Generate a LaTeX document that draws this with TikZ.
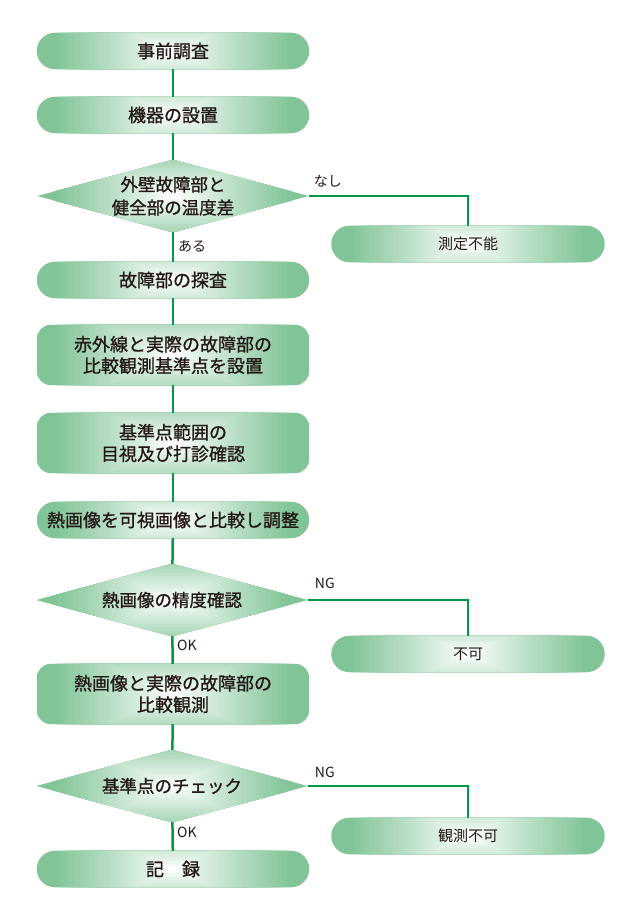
\documentclass[tikz,border=0pt]{standalone}
\usepackage{fontspec}
\setmainfont{Noto Sans CJK JP}
\newfontfamily\medfont{Noto Sans CJK JP}[FakeBold=1]
\usetikzlibrary{shapes.geometric,backgrounds}
\definecolor{boxg}{HTML}{80C497}
\definecolor{lineg}{HTML}{009A44}
\definecolor{txt}{HTML}{231815}
\newcommand\glowrects[1]{%
  \fill[boxg] ([shift={(-160pt,-160pt)}]#1.center) rectangle ([shift={(160pt,160pt)}]#1.center);
  \foreach \k in {0,...,39}{%
    \pgfmathsetmacro\glowpct{100*(1-\k/39)^0.9}%
    \pgfmathsetmacro\glowhw{120-3*\k}%
    \pgfmathsetmacro\glowhh{0.45*(120-3*\k)}%
    \fill[boxg!\glowpct!white] ([shift={(-\glowhw pt,-\glowhh pt)}]#1.center) rectangle ([shift={(\glowhw pt,\glowhh pt)}]#1.center);}}
\newcommand\glowbox[2]{%
  \begin{scope}
    \clip[rounded corners=#2] (#1.south west) rectangle (#1.north east);
    \glowrects{#1}
  \end{scope}}
\newcommand\glowdia[1]{%
  \begin{scope}
    \clip (#1.north) -- (#1.east) -- (#1.south) -- (#1.west) -- cycle;
    \glowrects{#1}
  \end{scope}}
\tikzset{
 mainbox/.style={rectangle, minimum width=272pt, minimum height=36pt, inner sep=0pt, align=center, text=txt, font=\fontsize{18}{21.5}\medfont},
 tallbox/.style={mainbox, minimum height=60pt},
 sidebox/.style={mainbox, minimum width=273pt, font=\fontsize{15}{18}\selectfont},
 decide/.style={diamond, aspect=3.76, minimum width=271pt, minimum height=72pt, inner sep=0pt, align=center, text=txt, font=\fontsize{17.5}{23}\medfont},
 conn/.style={draw=lineg, line width=2.5pt},
 lbl/.style={inner sep=0pt, anchor=west, text=txt, font=\fontsize{14}{16}\selectfont},
}
\begin{document}
\begin{tikzpicture}[x=1pt,y=-1pt]
\useasboundingbox (0,0) rectangle (625,916);
\node[mainbox] (b1) at (173,51) {事前調査};
\node[mainbox] (b2) at (173,115) {機器の設置};
\node[decide] (d1) at (173,196) {外壁故障部と\\健全部の温度差};
\node[sidebox] (n1) at (468,244) {測定不能};
\node[mainbox] (b3) at (173,280) {故障部の探査};
\node[tallbox] (b4) at (173,355) {赤外線と実際の故障部の\\比較観測基準点を設置};
\node[tallbox] (b5) at (173,443) {基準点範囲の\\目視及び打診確認};
\node[mainbox] (b6) at (173,520) {熱画像を可視画像と比較し調整};
\node[decide] (d2) at (172,600) {熱画像の精度確認};
\node[sidebox] (n2) at (468,654) {不可};
\node[tallbox] (b7) at (173,694) {熱画像と実際の故障部の\\比較観測};
\node[decide] (d3) at (172,786) {基準点のチェック};
\node[sidebox] (n3) at (468,836) {観測不可};
\node[mainbox] (b8) at (173,869) {記　録};

\begin{scope}[on background layer]
\glowbox{b1}{18pt}
\glowbox{b2}{18pt}
\glowdia{d1}
\glowbox{n1}{18pt}
\glowbox{b3}{18pt}
\glowbox{b4}{14pt}
\glowbox{b5}{14pt}
\glowbox{b6}{18pt}
\glowdia{d2}
\glowbox{n2}{18pt}
\glowbox{b7}{14pt}
\glowdia{d3}
\glowbox{n3}{18pt}
\glowbox{b8}{18pt}
\end{scope}

\draw[conn] (b1) -- (b2);
\draw[conn] (b2) -- (d1);
\draw[conn] (d1) -- (b3);
\draw[conn] (d1.east) -| (n1.north);
\draw[conn] (b3) -- (b4);
\draw[conn] (b4) -- (b5);
\draw[conn] (b5) -- (b6);
\draw[conn] (b6) -- (d2);
\draw[conn] (d2) -- (b7);
\draw[conn] (d2.east) -| (n2.north);
\draw[conn] (b7) -- (d3);
\draw[conn] (d3) -- (b8);
\draw[conn] (d3.east) -| (n3.north);

\node[lbl] (l1) at ([xshift=5pt,yshift=15pt]d1.east) {なし};
\node[lbl] (l2) at ([xshift=5pt,yshift=-14pt]d1.south) {ある};
\node[lbl] (l3) at ([xshift=7pt,yshift=17pt]d2.east) {NG};
\node[lbl] (l4) at ([xshift=5pt,yshift=-9pt]d2.south) {OK};
\node[lbl] (l5) at ([xshift=7pt,yshift=14pt]d3.east) {NG};
\node[lbl] (l6) at ([xshift=5pt,yshift=-10pt]d3.south) {OK};
\end{tikzpicture}
\end{document}
